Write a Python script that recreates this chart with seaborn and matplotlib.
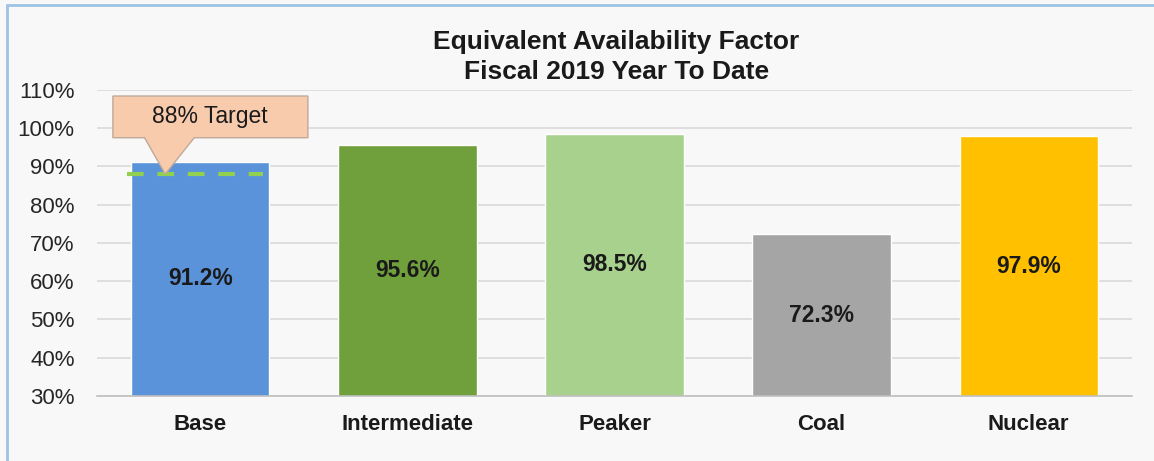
import numpy as np
import pandas as pd
import seaborn as sns
import matplotlib.pyplot as plt
from matplotlib.patches import Polygon
from matplotlib.lines import Line2D

# chart data
categories = ["Base", "Intermediate", "Peaker", "Coal", "Nuclear"]
availability = [91.2, 95.6, 98.5, 72.3, 97.9]
bar_colors = ["#5b93db", "#70a03b", "#a9d18e", "#a5a5a5", "#ffc000"]
target = 88
y_ticks = [30, 40, 50, 60, 70, 80, 90, 100, 110]

df = pd.DataFrame({"Category": categories, "EAF": availability})

sns.set_style("white")
plt.rcParams["font.family"] = ["Liberation Sans", "DejaVu Sans"]

fig = plt.figure(figsize=(11.54, 4.61), dpi=100, facecolor="#f8f8f8")
ax = fig.add_axes([0.084, 0.141, 0.897, 0.664])
ax.set_facecolor("#f8f8f8")

sns.barplot(data=df, x="Category", y="EAF", hue="Category", palette=bar_colors,
            width=0.667, saturation=1, legend=False, ax=ax)

ax.set_ylim(30, 110)
ax.set_xlim(-0.5, len(categories) - 0.5)
ax.set_yticks(y_ticks)
ax.set_yticklabels([f"{t}%" for t in y_ticks], fontsize=16, color="#262626")
ax.yaxis.grid(True, color="#d9d9d9", linewidth=1.2)
ax.set_axisbelow(True)
ax.tick_params(axis="y", length=0, pad=16)
ax.set_xlabel("")
ax.set_ylabel("")

# x labels bold, ticks at category boundaries
ax.set_xticks(range(len(categories)))
ax.set_xticklabels(categories, fontsize=16, fontweight="bold", color="#1a1a1a")
ax.set_xticks(np.arange(-0.5, len(categories)), minor=True)
ax.tick_params(axis="x", which="major", length=0, pad=13)
ax.tick_params(axis="x", which="minor", length=5, color="#bfbfbf", direction="out")

for s in ["top", "right", "left"]:
    ax.spines[s].set_visible(False)
ax.spines["bottom"].set_color("#bfbfbf")
ax.spines["bottom"].set_linewidth(1.2)

# value labels in the middle of each visible bar
for i, v in enumerate(availability):
    ax.text(i, (30 + v) / 2, f"{v:.1f}%", ha="center", va="center",
            fontsize=16.5, fontweight="bold", color="#1a1a1a")

# target line on the Base bar
ax.hlines(target, -0.355, 0.30, colors="#92d050", linestyles=(0, (4, 3.3)), linewidth=3, zorder=5)

# callout box
callout = Polygon([(-0.423, 108.4), (0.519, 108.4), (0.519, 97.5), (-0.03, 97.5),
                   (-0.17, target), (-0.27, 97.5), (-0.423, 97.5)],
                  closed=True, facecolor="#f8cbad", edgecolor="#bfa999",
                  linewidth=1, transform=ax.transData, clip_on=False, zorder=6)
ax.add_patch(callout)
ax.text(0.046, 103, f"{target}% Target", ha="center", va="center",
        fontsize=16.5, color="#1a1a1a", zorder=7)

# title
fig.text(0.534, 0.876, "Equivalent Availability Factor\nFiscal 2019 Year To Date",
         ha="center", va="center", fontsize=19, fontweight="bold",
         color="#1a1a1a", linespacing=1.35)

# frame lines at top and left
fig.add_artist(Line2D([0.006, 1.0], [0.989, 0.989], color="#9dc3e6", linewidth=2))
fig.add_artist(Line2D([0.006, 0.006], [0.0, 0.989], color="#9dc3e6", linewidth=2))

fig.savefig("out.png", dpi=100, facecolor=fig.get_facecolor())
